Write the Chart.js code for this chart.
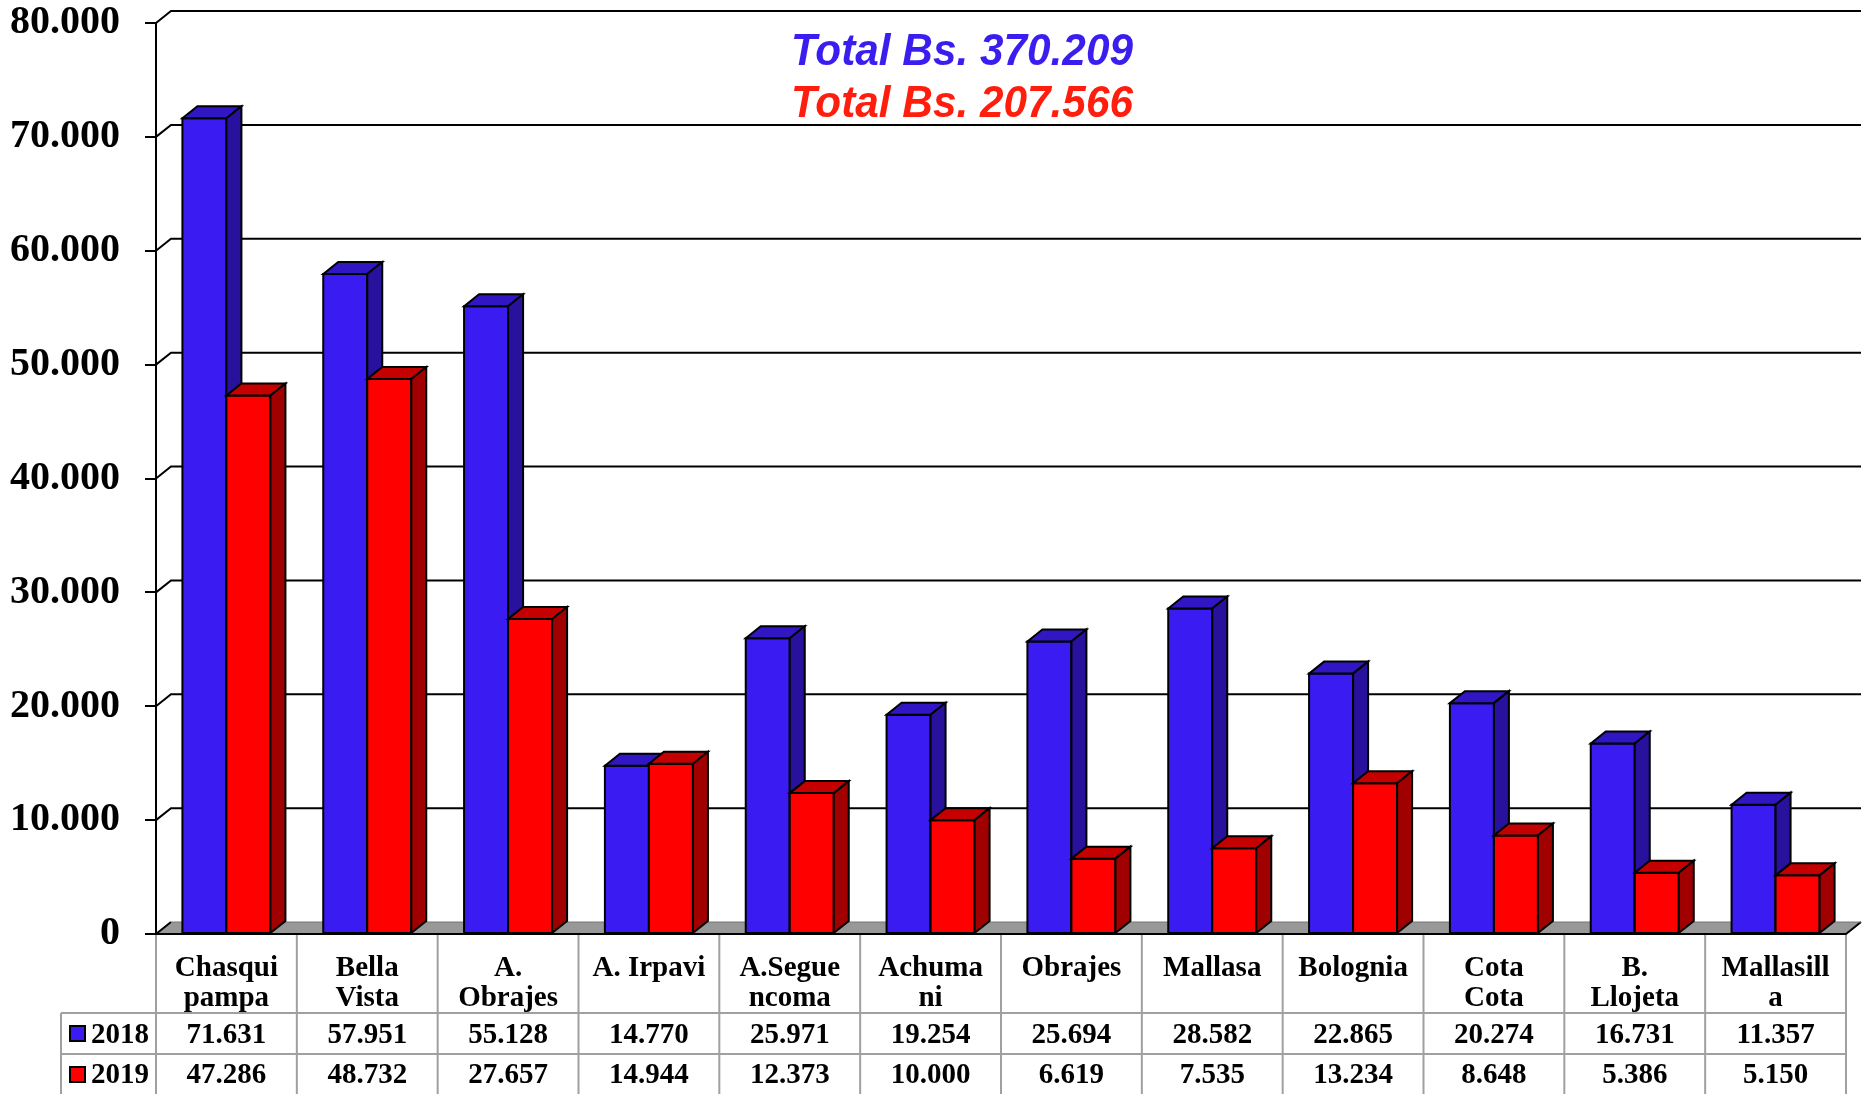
<!DOCTYPE html>
<html>
<head>
<meta charset="utf-8">
<script src="https://cdn.jsdelivr.net/npm/chart.js@4/dist/chart.umd.min.js"></script>
<style>
html,body{margin:0;padding:0;background:#fff;}
canvas{display:block;}
</style>
</head>
<body>
<canvas id="c" width="1866" height="1094"></canvas>
<script>
const categories = [
  ["Chasqui","pampa"], ["Bella","Vista"], ["A.","Obrajes"], ["A. Irpavi"],
  ["A.Segue","ncoma"], ["Achuma","ni"], ["Obrajes"], ["Mallasa"],
  ["Bolognia"], ["Cota","Cota"], ["B.","Llojeta"], ["Mallasill","a"]
];
const seriesNames = ["2018", "2019"];
const values2018 = [71631, 57951, 55128, 14770, 25971, 19254, 25694, 28582, 22865, 20274, 16731, 11357];
const values2019 = [47286, 48732, 27657, 14944, 12373, 10000, 6619, 7535, 13234, 8648, 5386, 5150];
const totalLabels = ["Total Bs. 370.209", "Total Bs. 207.566"];
const yTicks = [0, 10000, 20000, 30000, 40000, 50000, 60000, 70000, 80000];

const FRONT = ["#3A1CF2", "#FF0000"];
const TOP = ["#3116C4", "#C40000"];
const SIDE = ["#28119C", "#A00000"];
const TITLE_COL = ["#3A1EF0", "#FF1E0E"];
const DX = 15, DY = 12;
const SERIF = '"Liberation Serif", "Times New Roman", serif';
const SANS = '"Liberation Sans", Arial, sans-serif';

function fmt(v) {
  return String(v).replace(/\B(?=(\d{3})+(?!\d))/g, ".");
}

const threeD = {
  id: 'threeD',
  beforeDatasetsDraw(chart) {
    const ctx = chart.ctx, ca = chart.chartArea, ys = chart.scales.y;
    const L = ca.left, R = ca.right;
    ctx.save();
    const y0 = ys.getPixelForValue(0);
    ctx.beginPath();
    ctx.moveTo(L, y0); ctx.lineTo(L + DX, y0 - DY); ctx.lineTo(R + DX, y0 - DY); ctx.lineTo(R, y0); ctx.closePath();
    ctx.fillStyle = "#989898"; ctx.fill();
    ctx.strokeStyle = "#000"; ctx.lineWidth = 2;
    ctx.beginPath();
    ctx.moveTo(L + DX, y0 - DY); ctx.lineTo(L, y0); ctx.lineTo(R, y0); ctx.lineTo(R + DX, y0 - DY);
    ctx.stroke();
    ctx.strokeStyle = "#777"; ctx.lineWidth = 1;
    ctx.beginPath(); ctx.moveTo(L + DX, y0 - DY); ctx.lineTo(R + DX, y0 - DY); ctx.stroke();
    ctx.strokeStyle = "#000"; ctx.lineWidth = 2;
    yTicks.forEach(v => {
      if (v === 0) return;
      const y = ys.getPixelForValue(v);
      ctx.beginPath();
      ctx.moveTo(L, y); ctx.lineTo(L + DX, y - DY); ctx.lineTo(R + DX, y - DY);
      ctx.stroke();
    });
    ctx.restore();
  },
  afterDatasetsDraw(chart) {
    const ctx = chart.ctx;
    ctx.save();
    ctx.strokeStyle = "#000"; ctx.lineWidth = 2; ctx.lineJoin = "miter";
    const n = categories.length;
    for (let i = 0; i < n; i++) {
      for (let d = 0; d < 2; d++) {
        const el = chart.getDatasetMeta(d).data[i];
        const p = el.getProps(['x', 'y', 'base', 'width'], true);
        const l = p.x - p.width / 2, r = p.x + p.width / 2, t = p.y, b = p.base;
        ctx.fillStyle = FRONT[d];
        ctx.beginPath(); ctx.rect(l, t, r - l, b - t); ctx.fill(); ctx.stroke();
        ctx.fillStyle = TOP[d];
        ctx.beginPath();
        ctx.moveTo(l, t); ctx.lineTo(l + DX, t - DY); ctx.lineTo(r + DX, t - DY); ctx.lineTo(r, t); ctx.closePath();
        ctx.fill(); ctx.stroke();
        ctx.fillStyle = SIDE[d];
        ctx.beginPath();
        ctx.moveTo(r, t); ctx.lineTo(r + DX, t - DY); ctx.lineTo(r + DX, b - DY); ctx.lineTo(r, b); ctx.closePath();
        ctx.fill(); ctx.stroke();
      }
    }
    ctx.restore();
  },
  afterDraw(chart) {
    const ctx = chart.ctx, ca = chart.chartArea, xs = chart.scales.x;
    const L = ca.left, R = ca.right;
    const yTop = ca.bottom;
    const row1 = 1013, row2 = 1054, bottom = 1094, legL = 61;
    ctx.save();
    ctx.strokeStyle = "#A0A0A0"; ctx.lineWidth = 2;
    const n = categories.length;
    const borders = [L];
    for (let i = 1; i < n; i++) borders.push((xs.getPixelForValue(i - 1) + xs.getPixelForValue(i)) / 2);
    borders.push(R);
    ctx.beginPath();
    borders.forEach(x => { ctx.moveTo(x, yTop + 1); ctx.lineTo(x, bottom); });
    ctx.moveTo(legL, row1); ctx.lineTo(R, row1);
    ctx.moveTo(legL, row2); ctx.lineTo(R, row2);
    ctx.moveTo(legL, row1); ctx.lineTo(legL, bottom);
    ctx.stroke();
    ctx.fillStyle = "#000";
    ctx.font = "bold 29px " + SERIF;
    ctx.textAlign = "center"; ctx.textBaseline = "alphabetic";
    categories.forEach((lines, i) => {
      const cx = xs.getPixelForValue(i);
      lines.forEach((s, k) => ctx.fillText(s, cx, 976 + k * 30));
      ctx.fillText(fmt(values2018[i]), cx, 1043);
      ctx.fillText(fmt(values2019[i]), cx, 1083);
    });
    const ly = [1026, 1067], lb = [1043, 1083];
    for (let d = 0; d < 2; d++) {
      ctx.fillStyle = FRONT[d];
      ctx.fillRect(70, ly[d], 15, 15);
      ctx.strokeStyle = "#000"; ctx.lineWidth = 2;
      ctx.strokeRect(70, ly[d], 15, 15);
      ctx.fillStyle = "#000"; ctx.textAlign = "left";
      ctx.fillText(seriesNames[d], 91, lb[d]);
    }
    ctx.font = "italic bold 45px " + SANS;
    ctx.textAlign = "center";
    const tb = [65, 117];
    for (let d = 0; d < 2; d++) {
      const w = ctx.measureText(totalLabels[d]).width;
      const sx = 342 / w;
      ctx.save();
      ctx.translate(962, tb[d]);
      ctx.scale(sx, 1);
      ctx.fillStyle = TITLE_COL[d];
      ctx.fillText(totalLabels[d], 0, 0);
      ctx.restore();
    }
    ctx.restore();
  }
};

new Chart(document.getElementById('c'), {
  type: 'bar',
  data: {
    labels: categories,
    datasets: [
      { label: seriesNames[0], data: values2018, backgroundColor: FRONT[0], borderColor: "#000", borderWidth: 2 },
      { label: seriesNames[1], data: values2019, backgroundColor: FRONT[1], borderColor: "#000", borderWidth: 2 }
    ]
  },
  options: {
    responsive: false,
    animation: false,
    devicePixelRatio: 1,
    layout: { padding: { left: 0, right: 20, top: 0, bottom: 160 } },
    datasets: { bar: { categoryPercentage: 0.625, barPercentage: 1.0 } },
    plugins: { legend: { display: false }, tooltip: { enabled: false }, title: { display: false } },
    scales: {
      x: { display: false },
      y: {
        min: 0, max: 80000,
        afterFit(scale) { scale.width = 156; scale.paddingTop = 23; scale.paddingBottom = 0; },
        afterBuildTicks(scale) { scale.ticks = yTicks.map(v => ({ value: v })); },
        border: { display: true, color: "#000", width: 2 },
        grid: { display: true, drawOnChartArea: false, drawTicks: true, tickLength: 11, color: "#000", lineWidth: 2 },
        ticks: {
          padding: 25,
          color: "#000",
          font: { family: SERIF, size: 40, weight: "bold" },
          callback: v => fmt(v)
        }
      }
    }
  },
  plugins: [threeD]
});
</script>
</body>
</html>
